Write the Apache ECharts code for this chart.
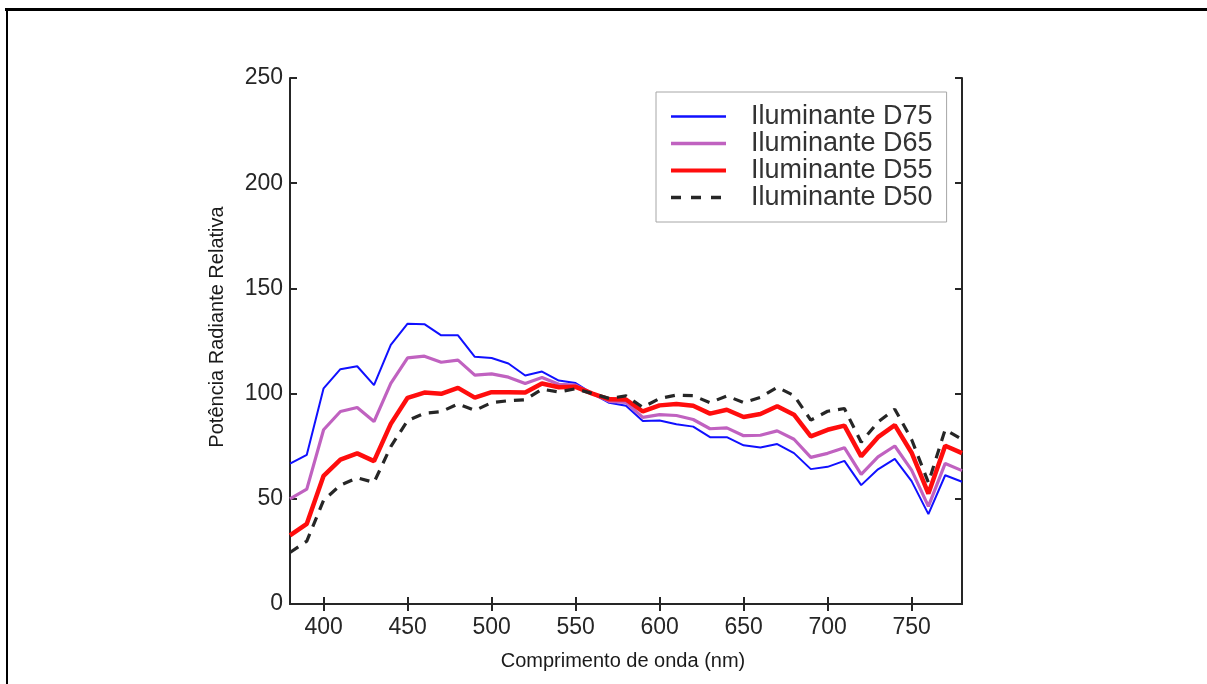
<!DOCTYPE html>
<html>
<head>
<meta charset="utf-8">
<title>Iluminantes CIE</title>
<script src="https://cdn.jsdelivr.net/npm/echarts@6/dist/echarts.min.js"></script>
<style>
  html, body { margin: 0; padding: 0; background: #ffffff; }
  #chart { width: 1207px; height: 684px; }
</style>
</head>
<body>
<div id="chart"></div>
<script>
// Wavelengths (nm), 10 nm steps
const wavelengths = [380, 390, 400, 410, 420, 430, 440, 450, 460, 470, 480, 490, 500,
  510, 520, 530, 540, 550, 560, 570, 580, 590, 600, 610, 620, 630, 640, 650, 660,
  670, 680, 690, 700, 710, 720, 730, 740, 750, 760, 770, 780];

// Relative spectral power of each illuminant
const d75 = [66.7, 70.9, 102.5, 111.6, 113.0, 104.0, 123.2, 133.2, 133.0, 127.7, 127.7, 117.5, 116.9,
  114.3, 108.6, 110.5, 106.2, 105.0, 100.0, 95.6, 94.2, 87.0, 87.2, 85.4, 84.3, 79.3, 79.3, 75.4, 74.4,
  76.0, 71.7, 64.1, 65.2, 68.0, 56.5, 64.0, 69.0, 58.4, 42.7, 61.2, 58.1];

const d65 = [50.0, 54.6, 82.8, 91.5, 93.4, 86.7, 104.9, 117.0, 117.8, 114.9, 115.9, 108.8, 109.4,
  107.8, 104.8, 107.7, 104.4, 104.0, 100.0, 96.3, 95.8, 88.7, 90.0, 89.6, 87.7, 83.3, 83.7, 80.0, 80.2,
  82.3, 78.3, 69.7, 71.6, 74.3, 61.6, 69.9, 75.1, 63.6, 46.4, 66.8, 63.4];

const d55 = [32.6, 38.1, 60.9, 68.6, 71.6, 67.9, 85.6, 98.0, 100.5, 99.9, 102.7, 98.1, 100.7,
  100.7, 100.5, 104.8, 103.0, 103.2, 100.0, 97.3, 97.2, 91.5, 94.4, 95.1, 94.2, 90.5, 92.3, 88.9, 90.3,
  94.0, 90.0, 79.7, 82.8, 84.8, 70.2, 79.3, 85.0, 71.9, 52.5, 75.2, 71.7];

const d50 = [24.5, 29.9, 49.3, 56.5, 60.0, 57.8, 74.8, 87.2, 90.6, 91.4, 95.1, 92.0, 95.7,
  96.6, 97.1, 102.1, 100.8, 102.3, 100.0, 97.7, 98.9, 93.5, 97.7, 99.3, 99.0, 95.7, 98.9, 95.7, 98.2,
  103.0, 99.1, 87.4, 91.6, 92.9, 76.9, 86.5, 92.6, 78.2, 57.7, 82.9, 78.3];

// Tick positions
const xTicks = [400, 450, 500, 550, 600, 650, 700, 750];
const yTicks = [0, 50, 100, 150, 200, 250];

const seriesNames = ['Iluminante D75', 'Iluminante D65', 'Iluminante D55', 'Iluminante D50'];

const FONT = '"Liberation Sans", Arial, Helvetica, sans-serif';
const AXIS_COLOR = '#262626';

function pairs(values) {
  return wavelengths.map((w, i) => [w, values[i]]);
}

const chart = echarts.init(document.getElementById('chart'), null, { renderer: 'canvas' });

const axisLineStyle = { show: true, lineStyle: { color: AXIS_COLOR, width: 2 } };
const tickStyle = (vals) => ({ show: true, inside: true, length: 7, customValues: vals,
                               lineStyle: { color: AXIS_COLOR, width: 2 } });

chart.setOption({
  backgroundColor: '#ffffff',
  animation: false,
  textStyle: { fontFamily: FONT },
  grid: { left: 290, right: 245, top: 78, bottom: 80, containLabel: false },
  legend: {
    left: 656,
    top: 92,
    orient: 'vertical',
    data: [
      { name: seriesNames[0], lineStyle: { width: 2.5 } },
      { name: seriesNames[1], lineStyle: { width: 3.5 } },
      { name: seriesNames[2], lineStyle: { width: 4 } },
      { name: seriesNames[3], lineStyle: { width: 3.5, type: [10, 10] } }
    ],
    itemWidth: 55,
    itemHeight: 14,
    itemGap: 0,
    padding: [11, 14, 11, 13],
    borderColor: '#a6a6a6',
    borderWidth: 1,
    backgroundColor: '#ffffff',
    itemStyle: { opacity: 0 },
    textStyle: { fontFamily: FONT, fontSize: 27, color: '#333333', padding: [0, 0, 0, 20] },
    selectedMode: false
  },
  xAxis: [
    {
      type: 'value', min: 380, max: 780, position: 'bottom',
      name: 'Comprimento de onda (nm)', nameLocation: 'middle', nameGap: 47,
      nameTextStyle: { fontFamily: FONT, fontSize: 20, color: '#1a1a1a', padding: [0, 6, 0, 0] },
      axisLine: axisLineStyle,
      axisTick: tickStyle(xTicks),
      axisLabel: { show: true, customValues: xTicks, margin: 12, fontSize: 23,
                   color: AXIS_COLOR, fontFamily: FONT },
      splitLine: { show: false }
    },
    {
      type: 'value', min: 380, max: 780, position: 'top',
      axisLine: axisLineStyle,
      axisTick: tickStyle(xTicks),
      axisLabel: { show: false },
      splitLine: { show: false }
    }
  ],
  yAxis: [
    {
      type: 'value', min: 0, max: 250, interval: 50, position: 'left',
      name: 'Potência Radiante Relativa', nameLocation: 'middle', nameGap: 63,
      nameTextStyle: { fontFamily: FONT, fontSize: 20, color: '#1a1a1a', padding: [0, 0, 0, 28] },
      axisLine: axisLineStyle,
      axisTick: tickStyle(yTicks),
      axisLabel: { show: true, customValues: yTicks, margin: 7, fontSize: 23,
                   color: AXIS_COLOR, fontFamily: FONT },
      splitLine: { show: false }
    },
    {
      type: 'value', min: 0, max: 250, interval: 50, position: 'right',
      axisLine: axisLineStyle,
      axisTick: tickStyle(yTicks),
      axisLabel: { show: false },
      splitLine: { show: false }
    }
  ],
  series: [
    {
      name: seriesNames[0], type: 'line', data: pairs(d75), symbol: 'none',
      lineStyle: { color: '#1010ff', width: 2 }, itemStyle: { color: '#1010ff' }
    },
    {
      name: seriesNames[1], type: 'line', data: pairs(d65), symbol: 'none',
      lineStyle: { color: '#c062c0', width: 3.2 }, itemStyle: { color: '#c062c0' }
    },
    {
      name: seriesNames[2], type: 'line', data: pairs(d55), symbol: 'none',
      lineStyle: { color: '#ff0d0d', width: 4.5 }, itemStyle: { color: '#ff0d0d' }
    },
    {
      name: seriesNames[3], type: 'line', data: pairs(d50), symbol: 'none',
      lineStyle: { color: '#262626', width: 3.2, type: [10, 8] }, itemStyle: { color: '#262626' }
    }
  ],
  graphic: [
    // page frame: top and left rules
    { type: 'rect', left: 5, top: 8, shape: { width: 1202, height: 3 }, style: { fill: '#000000' }, silent: true },
    { type: 'rect', left: 6, top: 8, shape: { width: 2, height: 676 }, style: { fill: '#000000' }, silent: true }
  ]
});
</script>
</body>
</html>
